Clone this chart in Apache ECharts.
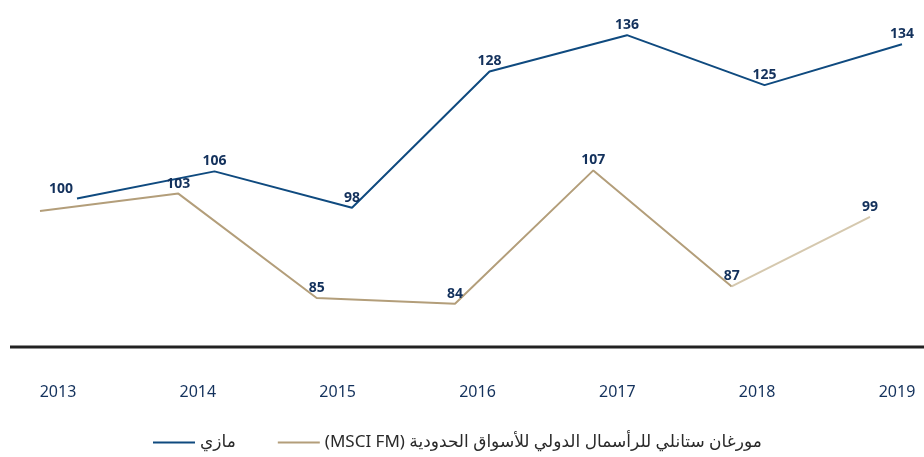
<!DOCTYPE html>
<html lang="ar">
<head>
<meta charset="utf-8">
<title>مازي</title>
<script src="https://cdn.jsdelivr.net/npm/echarts@6/dist/echarts.min.js"></script>
<style>
  html, body { margin: 0; padding: 0; background: #fff; }
  #chart { width: 924px; height: 457px; direction: rtl; }
</style>
</head>
<body>
<div id="chart"></div>
<script>
  var years = ['2013', '2014', '2015', '2016', '2017', '2018', '2019'];
  var maziValues = [100, 106, 98, 128, 136, 125, 134];
  var msciValues = [100, 103, 85, 84, 107, 87, 99];
  var maziName = 'مازي';
  var msciName = 'مورغان ستانلي للرأسمال الدولي للأسواق الحدودية (MSCI FM)';

  var blue = '#0f4a7f';
  var tan = '#b39e7a';
  var tanLight = '#d5c8ae';
  var navy = '#13315c';
  var font = '"Noto Sans", "DejaVu Sans", sans-serif';

  var labelStyle = {
    show: true,
    position: 'top',
    distance: 3,
    color: navy,
    fontWeight: 'bold',
    fontSize: 14,
    fontFamily: font
  };

  // first blue label sits a bit to the left, between the two start points
  var maziData = maziValues.map(function (v, i) {
    if (i === 0) return { value: v, label: { offset: [-16, 0] } };
    return v;
  });
  // msci: 2013-2018 drawn dark, last segment (2018-2019) drawn light
  // the shared 2013 base value is only labelled once (on mazi)
  var lastIdx = msciValues.length - 1;
  var msciMain = msciValues.map(function (v, i) {
    if (i === lastIdx) return null;
    if (i === 0) return { value: v, label: { show: false } };
    return v;
  });
  var msciTail = msciValues.map(function (v, i) {
    if (i < lastIdx - 1) return null;
    if (i === lastIdx) return { value: v, label: { show: true } };
    return v;
  });

  var myChart = echarts.init(document.getElementById('chart'));
  var option = {
    animation: false,
    textStyle: { fontFamily: font },
    grid: [
      { left: 77, right: 22, top: 17, bottom: 213 },   // mazi
      { left: 40, right: 54, top: 153, bottom: 130 },  // msci
      { left: 58, right: 27, top: 100, bottom: 110 }   // year labels
    ],
    xAxis: [
      { gridIndex: 0, type: 'category', data: years, boundaryGap: false, show: false },
      { gridIndex: 1, type: 'category', data: years, boundaryGap: false, show: false },
      {
        gridIndex: 2, type: 'category', data: years, boundaryGap: false,
        axisLine: { show: false }, axisTick: { show: false },
        axisLabel: { color: navy, fontSize: 16, margin: 37, fontFamily: font }
      }
    ],
    yAxis: [
      { gridIndex: 0, type: 'value', min: 90, max: 140, show: false },
      { gridIndex: 1, type: 'value', min: 80, max: 110, show: false },
      { gridIndex: 2, type: 'value', show: false }
    ],
    legend: {
      left: 148,
      top: 429,
      itemWidth: 42,
      itemHeight: 2,
      itemGap: 42,
      icon: 'rect',
      textStyle: { color: '#2a2a2a', fontSize: 17, fontFamily: font },
      data: [
        { name: maziName, itemStyle: { color: blue } },
        { name: msciName, itemStyle: { color: tan } }
      ]
    },
    graphic: [{
      type: 'line',
      shape: { x1: 10, y1: 347, x2: 924, y2: 347 },
      style: { stroke: '#222', lineWidth: 3 }
    }],
    series: [
      {
        name: maziName,
        type: 'line',
        xAxisIndex: 0,
        yAxisIndex: 0,
        data: maziData,
        showSymbol: true,
        symbol: 'circle',
        symbolSize: 0,
        color: blue,
        lineStyle: { color: blue, width: 2 },
        label: labelStyle
      },
      {
        name: msciName,
        type: 'line',
        xAxisIndex: 1,
        yAxisIndex: 1,
        data: msciMain,
        showSymbol: true,
        symbol: 'circle',
        symbolSize: 0,
        color: tan,
        lineStyle: { color: tan, width: 2 },
        label: labelStyle
      },
      {
        name: 'msci-tail',
        type: 'line',
        xAxisIndex: 1,
        yAxisIndex: 1,
        data: msciTail,
        showSymbol: true,
        symbol: 'circle',
        symbolSize: 0,
        color: tanLight,
        lineStyle: { color: tanLight, width: 2 },
        label: Object.assign({}, labelStyle, { show: false })
      }
    ]
  };
  myChart.setOption(option);
</script>
</body>
</html>
